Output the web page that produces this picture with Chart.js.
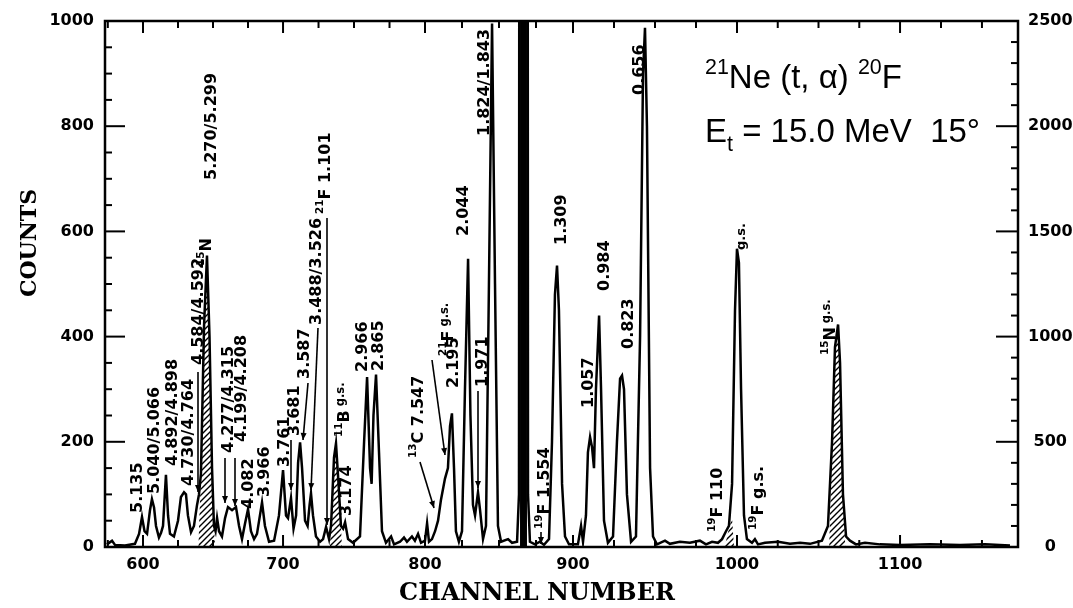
<!DOCTYPE html>
<html>
<head>
<meta charset="utf-8">
<script src="https://cdn.jsdelivr.net/npm/chart.js@4.4.0/dist/chart.umd.min.js"></script>
<style>
  html, body { margin: 0; padding: 0; background: #fff; }
  #wrap { width: 1073px; height: 608px; }
</style>
</head>
<body>
<div id="wrap"><canvas id="spectrum" width="1073" height="608"></canvas></div>
<script>
// ---- data (channel, counts) ----
const channels = [
  574.4, 578.0, 580.1, 587.2, 594.3, 597.2, 599.3, 601.1, 602.9, 605.0,
  606.4, 607.9, 609.3, 611.4, 612.9, 614.3, 616.4, 617.9, 619.3, 622.1,
  625.0, 627.1, 629.3, 630.7, 632.1, 634.3, 636.4, 638.6, 640.0, 641.4,
  643.6, 645.7, 647.5, 649.3, 650.7, 651.8, 652.9, 654.3, 656.4, 658.6,
  660.7, 663.6, 666.4, 668.6, 670.7, 672.9, 675.0, 677.1, 679.3, 681.4,
  685.0, 687.1, 690.0, 693.6, 697.1, 700.0, 702.1, 703.5, 705.6, 707.4,
  709.2, 710.6, 712.0, 713.4, 715.5, 717.3, 718.7, 719.7, 721.1, 723.2,
  726.1, 728.2, 730.3, 732.4, 733.8, 735.9, 737.3, 739.1, 740.8, 742.3,
  743.7, 745.8, 749.3, 754.2, 757.1, 759.2, 761.3, 762.4, 763.7, 765.5,
  767.6, 769.7, 772.5, 776.1, 778.2, 782.4, 785.2, 787.3, 790.8, 792.9,
  795.1, 797.2, 800.0, 801.4, 802.7, 804.7, 806.8, 808.8, 810.8, 813.5,
  815.5, 816.9, 818.2, 819.6, 820.9, 822.9, 825.0, 827.0, 829.1, 830.7,
  832.4, 833.8, 835.8, 837.2, 839.2, 841.2, 843.2, 845.3, 847.3, 849.3,
  851.4, 856.1, 858.8, 862.2, 863.5, 864.2, 868.9, 869.6, 870.9, 874.3,
  877.7, 880.4, 883.8, 885.8, 887.8, 889.2, 890.5, 892.6, 894.6, 897.3,
  900.0, 903.0, 904.9, 906.1, 907.9, 909.1, 910.4, 911.6, 912.8, 914.0,
  915.9, 917.1, 918.9, 921.3, 924.4, 926.8, 928.7, 929.9, 931.1, 932.9,
  935.4, 938.4, 940.9, 942.7, 943.9, 945.1, 947.0, 948.8, 951.2, 956.1,
  959.1, 965.2, 971.3, 977.4, 981.1, 984.8, 988.4, 990.9, 993.3, 995.1,
  997.0, 998.8, 1000.0, 1001.2, 1002.5, 1004.3, 1006.1, 1009.2, 1011.0, 1012.9,
  1017.2, 1025.2, 1032.5, 1038.7, 1044.8, 1052.1, 1055.8, 1058.3, 1060.1, 1062.0,
  1063.2, 1065.0, 1066.9, 1069.3, 1073.0, 1078.5, 1087.7, 1100.0, 1118.3, 1136.6,
  1151.9, 1167.1
];
const counts = [
  5, 12, 4, 3, 6, 25, 57, 30, 25, 70,
  91, 75, 40, 18, 27, 40, 137, 60, 25, 20,
  50, 95, 104, 100, 60, 28, 40, 80, 100, 140,
  420, 554, 400, 150, 40, 30, 55, 30, 20, 55,
  76, 70, 76, 40, 15, 45, 72, 30, 15, 25,
  85, 40, 10, 12, 60, 146, 60, 55, 93, 35,
  60, 160, 199, 150, 50, 40, 80, 102, 60, 20,
  10, 15, 38, 15, 40, 170, 197, 120, 40, 35,
  47, 15, 8, 20, 200, 323, 150, 120, 250, 328,
  180, 30, 8, 20, 5, 10, 18, 10, 20, 12,
  25, 8, 12, 45, 10, 15, 30, 50, 90, 130,
  150, 230, 254, 150, 30, 10, 30, 300, 548, 250,
  80, 60, 104, 70, 15, 40, 500, 995, 500, 40,
  10, 15, 8, 10, 100, 4000, 4000, 100, 10, 5,
  10, 4, 15, 200, 480, 535, 450, 120, 20, 5,
  5, 5, 40, 10, 60, 180, 209, 190, 150, 300,
  440, 300, 50, 8, 20, 200, 320, 326, 300, 100,
  10, 20, 400, 900, 987, 800, 150, 20, 5, 12,
  6, 10, 8, 12, 5, 10, 8, 15, 30, 40,
  120, 450, 567, 540, 300, 60, 15, 8, 15, 5,
  8, 10, 6, 8, 6, 12, 40, 200, 380, 423,
  350, 100, 20, 12, 5, 8, 5, 4, 5, 4,
  5, 3
];

// hatched contaminant peaks (null = gap between peaks)
const hatchChannels = [
  639.5, 641.4, 643.6, 645.7, 647.5, 649.3, 650.7, 651.5, 652.0,
  733.0, 733.8, 735.9, 737.3, 739.1, 740.8, 741.5, 742.0,
  992.5, 995.1, 997.0, 998.2, 998.6,
  1056.5, 1058.3, 1060.1, 1062.0, 1063.2, 1065.0, 1066.5
];
const hatchCounts = [
  0, 140, 420, 554, 400, 150, 40, 0, null,
  0, 40, 170, 197, 120, 40, 0, null,
  0, 35, 55, 0, null,
  0, 200, 380, 423, 350, 100, 0
];

// off-scale peak near channel 866 (drawn solid black)
const offscaleChannels = [864.2, 868.9];
const offscaleCounts = [4000, 4000];

const xTickValues = [600, 700, 800, 900, 1000, 1100];

// ---- axis calibration: the channel axis of the scan is not uniform ----
const warpValues = [573, 600, 700, 800, 900, 1000, 1100, 1172];
const warpFracs  = [0, 0.0416, 0.1950, 0.3505, 0.5126, 0.6922, 0.8708, 1];

const LinearScale = Chart.registry.getScale('linear');
class WarpScale extends LinearScale {
  _frac(v) {
    const n = warpValues.length;
    let i = 0;
    if (v >= warpValues[n - 1]) i = n - 2;
    else while (i < n - 2 && v > warpValues[i + 1]) i++;
    const t = (v - warpValues[i]) / (warpValues[i + 1] - warpValues[i]);
    return warpFracs[i] + t * (warpFracs[i + 1] - warpFracs[i]);
  }
  getPixelForValue(value) {
    if (value === null || isNaN(value)) return NaN;
    return this.left + this._frac(value) * this.width;
  }
  getValueForPixel(pixel) {
    const f = (pixel - this.left) / this.width;
    let i = 0;
    while (i < warpFracs.length - 2 && f > warpFracs[i + 1]) i++;
    const t = (f - warpFracs[i]) / (warpFracs[i + 1] - warpFracs[i]);
    return warpValues[i] + t * (warpValues[i + 1] - warpValues[i]);
  }
}
WarpScale.id = 'warp';
WarpScale.defaults = {};
Chart.register(WarpScale);

// ---- annotations (text parts: [text, kind]) ----
const peakLabels = [
  { x: 136, y: 513, parts: [['5.135']] },
  { x: 153, y: 494, parts: [['5.040/5.066']] },
  { x: 171, y: 466, parts: [['4.892/4.898']] },
  { x: 187, y: 486, parts: [['4.730/4.764']] },
  { x: 197, y: 365, parts: [['4.584/4.592']] },
  { x: 205, y: 266, parts: [['15', 'sup'], ['N']] },
  { x: 210, y: 180, parts: [['5.270/5.299']] },
  { x: 227, y: 453, parts: [['4.277/4.315']] },
  { x: 240, y: 442, parts: [['4.199/4.208']] },
  { x: 247, y: 509, parts: [['4.082']] },
  { x: 263, y: 497, parts: [['3.966']] },
  { x: 283, y: 467, parts: [['3.761']] },
  { x: 293, y: 436, parts: [['3.681']] },
  { x: 303, y: 379, parts: [['3.587']] },
  { x: 315, y: 325, parts: [['3.488/3.526']] },
  { x: 324, y: 214, parts: [['21', 'sup'], ['F 1.101']] },
  { x: 343, y: 437, parts: [['11', 'sup'], ['B'], [' g.s.', 'sm']] },
  { x: 345, y: 516, parts: [['3.174']] },
  { x: 361, y: 372, parts: [['2.966']] },
  { x: 377, y: 371, parts: [['2.865']] },
  { x: 417, y: 458, parts: [['13', 'sup'], ['C 7.547']] },
  { x: 447, y: 356, parts: [['21', 'sup'], ['F'], [' g.s.', 'sm']] },
  { x: 452, y: 388, parts: [['2.195']] },
  { x: 462, y: 236, parts: [['2.044']] },
  { x: 481, y: 387, parts: [['1.971']] },
  { x: 483, y: 136, parts: [['1.824/1.843']] },
  { x: 543, y: 529, parts: [['19', 'sup'], ['F 1.554']] },
  { x: 560, y: 245, parts: [['1.309']] },
  { x: 587, y: 408, parts: [['1.057']] },
  { x: 603, y: 291, parts: [['0.984']] },
  { x: 627, y: 349, parts: [['0.823']] },
  { x: 638, y: 95, parts: [['0.656']] },
  { x: 740, y: 250, size: 13, parts: [['g.s.']] },
  { x: 716, y: 532, parts: [['19', 'sup'], ['F 110']] },
  { x: 757, y: 530, parts: [['19', 'sup'], ['F g.s.']] },
  { x: 829, y: 355, parts: [['15', 'sup'], ['N'], [' g.s.', 'sm']] }
];
const arrows = [
  [198, 372, 198, 492],
  [225, 458, 225, 503],
  [235, 458, 235, 506],
  [291, 440, 291, 490],
  [308, 383, 303, 440],
  [318, 328, 311, 490],
  [327, 218, 327, 525],
  [420, 462, 434, 508],
  [432, 360, 445, 455],
  [478, 391, 478, 488],
  [541, 532, 541, 544]
];

function makeHatch(ctx) {
  const c = document.createElement('canvas');
  c.width = 6; c.height = 6;
  const g = c.getContext('2d');
  g.strokeStyle = '#000';
  g.lineWidth = 1.4;
  g.beginPath();
  g.moveTo(0, 6); g.lineTo(6, 0);
  g.moveTo(-1, 1); g.lineTo(1, -1);
  g.moveTo(5, 7); g.lineTo(7, 5);
  g.stroke();
  return ctx.createPattern(c, 'repeat');
}

function drawParts(ctx, parts, size, family, weight) {
  let cx = 0;
  for (const [t, kind] of parts) {
    let s = size, dy = 0;
    if (kind === 'sup') { s = size * 0.65; dy = -size * 0.42; }
    else if (kind === 'sub') { s = size * 0.65; dy = size * 0.28; }
    else if (kind === 'sm') { s = size * 0.72; dy = -size * 0.28; }
    ctx.font = weight + ' ' + s + 'px ' + family;
    ctx.fillText(t, cx, dy);
    cx += ctx.measureText(t).width;
  }
}

function arrow(ctx, x1, y1, x2, y2) {
  ctx.beginPath(); ctx.moveTo(x1, y1); ctx.lineTo(x2, y2); ctx.stroke();
  const a = Math.atan2(y2 - y1, x2 - x1), L = 7, w = 3;
  ctx.beginPath();
  ctx.moveTo(x2, y2);
  ctx.lineTo(x2 - L * Math.cos(a) + w * Math.sin(a), y2 - L * Math.sin(a) - w * Math.cos(a));
  ctx.lineTo(x2 - L * Math.cos(a) - w * Math.sin(a), y2 - L * Math.sin(a) + w * Math.cos(a));
  ctx.closePath(); ctx.fill();
}

const frameAndText = {
  id: 'frameAndText',
  afterDraw(chart) {
    const ctx = chart.ctx, a = chart.chartArea;
    const xs = chart.scales.x, yl = chart.scales.y, yr = chart.scales.y2;
    ctx.save();
    ctx.strokeStyle = '#000'; ctx.fillStyle = '#000';
    ctx.lineWidth = 2.5;
    ctx.strokeRect(a.left, a.top, a.right - a.left, a.bottom - a.top);

    // inward ticks
    ctx.lineWidth = 2;
    const seg = (x1, y1, x2, y2) => { ctx.beginPath(); ctx.moveTo(x1, y1); ctx.lineTo(x2, y2); ctx.stroke(); };
    for (let v = 575; v <= 1170; v += 25) {
      const px = xs.getPixelForValue(v), L = v % 100 === 0 ? 12 : 7;
      seg(px, a.bottom, px, a.bottom - L);
      seg(px, a.top, px, a.top + L);
    }
    for (let v = 50; v < 1000; v += 50) {
      const py = yl.getPixelForValue(v), L = v % 200 === 0 ? 20 : 7;
      seg(a.left, py, a.left + L, py);
    }
    for (let v = 100; v < 2500; v += 100) {
      const py = yr.getPixelForValue(v), L = v % 500 === 0 ? 22 : 7;
      seg(a.right, py, a.right - L, py);
    }

    // axis titles
    ctx.font = 'bold 24px "DejaVu Serif"';
    ctx.textAlign = 'center'; ctx.textBaseline = 'middle';
    ctx.fillText('CHANNEL NUMBER', 537, 594);
    ctx.save();
    ctx.translate(30, 243); ctx.rotate(-Math.PI / 2);
    ctx.font = 'bold 22px "DejaVu Serif"';
    ctx.fillText('COUNTS', 0, 0);
    ctx.restore();

    // peak labels (rotated)
    ctx.textAlign = 'left'; ctx.textBaseline = 'alphabetic';
    peakLabels.forEach(l => {
      const fs = l.size || 16;
      ctx.save();
      ctx.translate(l.x + fs * 0.36, l.y);
      ctx.rotate(-Math.PI / 2);
      drawParts(ctx, l.parts, fs, '"DejaVu Sans"', 'bold');
      ctx.restore();
    });
    ctx.lineWidth = 1.6;
    arrows.forEach(r => arrow(ctx, r[0], r[1], r[2], r[3]));

    // reaction
    ctx.save(); ctx.translate(705, 88);
    drawParts(ctx, [['21', 'sup'], ['Ne (t, α) '], ['20', 'sup'], ['F']], 33, '"Liberation Sans"', 'normal');
    ctx.restore();
    ctx.save(); ctx.translate(705, 142);
    drawParts(ctx, [['E'], ['t', 'sub'], [' = 15.0 MeV  15°']], 33, '"Liberation Sans"', 'normal');
    ctx.restore();
    ctx.restore();
  }
};

const ctx = document.getElementById('spectrum').getContext('2d');
const hatch = makeHatch(ctx);
const tickFont = { family: '"DejaVu Sans"', weight: 'bold', size: 16 };
const plain = v => String(v);

new Chart(ctx, {
  type: 'line',
  data: {
    datasets: [
      {
        label: 'spectrum',
        data: channels.map((c, i) => ({ x: c, y: counts[i] })),
        borderColor: '#000', borderWidth: 2.5, pointRadius: 0, tension: 0, fill: false
      },
      {
        label: 'offscale',
        data: offscaleChannels.map((c, i) => ({ x: c, y: offscaleCounts[i] })),
        borderColor: '#000', borderWidth: 0, pointRadius: 0, backgroundColor: '#000', fill: 'origin'
      },
      {
        label: 'hatched',
        data: hatchChannels.map((c, i) => ({ x: c, y: hatchCounts[i] })),
        borderWidth: 0, pointRadius: 0, backgroundColor: hatch, fill: 'origin', spanGaps: false
      }
    ]
  },
  options: {
    responsive: false,
    animation: false,
    devicePixelRatio: 1,
    events: [],
    layout: { padding: { top: 21, left: 0, right: 0, bottom: 0 } },
    plugins: { legend: { display: false }, tooltip: { enabled: false } },
    scales: {
      x: {
        type: 'warp', min: 573, max: 1172,
        afterBuildTicks: s => { s.ticks = xTickValues.map(v => ({ value: v })); },
        afterFit: s => { s.height = 61; },
        grid: { display: false, drawTicks: false }, border: { display: false },
        ticks: { color: '#000', padding: 8, maxRotation: 0, autoSkip: false, font: tickFont, callback: plain }
      },
      y: {
        position: 'left', min: 0, max: 1000,
        afterFit: s => { s.width = 105; },
        grid: { display: false, drawTicks: false }, border: { display: false },
        ticks: { stepSize: 200, color: '#000', padding: 11, crossAlign: 'near', font: tickFont, callback: plain }
      },
      y2: {
        position: 'right', min: 0, max: 2500,
        afterFit: s => { s.width = 55; },
        grid: { display: false, drawTicks: false }, border: { display: false },
        ticks: { stepSize: 500, color: '#000', padding: 10, crossAlign: 'center', font: tickFont, callback: plain }
      }
    }
  },
  plugins: [frameAndText]
});
</script>
</body>
</html>
